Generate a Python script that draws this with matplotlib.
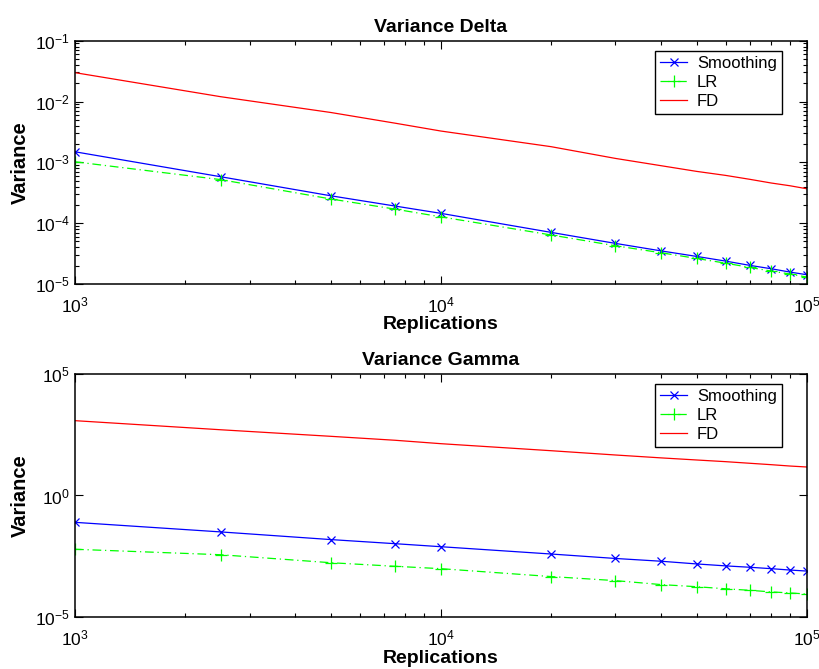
import numpy as np
import matplotlib
matplotlib.use('Agg')
import matplotlib.pyplot as plt
from matplotlib.ticker import LogLocator, NullLocator

plt.rcParams['font.family'] = ['Liberation Sans', 'DejaVu Sans']
plt.rcParams['mathtext.fontset'] = 'custom'
plt.rcParams['mathtext.rm'] = 'Liberation Sans'
plt.rcParams['mathtext.it'] = 'Liberation Sans:italic'
plt.rcParams['mathtext.bf'] = 'Liberation Sans:bold'

# replications
reps = [1000, 2500, 5000, 7500, 10000, 20000, 30000, 40000, 50000,
        60000, 70000, 80000, 90000, 100000]

# Variance Delta
delta_smooth = [1.49e-3, 5.8e-4, 2.82e-4, 1.91e-4, 1.45e-4, 7.06e-5, 4.65e-5,
                3.5e-5, 2.84e-5, 2.38e-5, 2.02e-5, 1.78e-5, 1.57e-5, 1.42e-5]
delta_lr = [1.02e-3, 5.2e-4, 2.5e-4, 1.7e-4, 1.27e-4, 6.4e-5, 4.25e-5,
            3.26e-5, 2.63e-5, 2.2e-5, 1.87e-5, 1.63e-5, 1.46e-5, 1.3e-5]
delta_fd = [2.98e-2, 1.2e-2, 6.6e-3, 4.4e-3, 3.27e-3, 1.81e-3, 1.16e-3,
            8.8e-4, 7.1e-4, 6.1e-4, 5.25e-4, 4.57e-4, 4.12e-4, 3.68e-4]

# Variance Gamma
gamma_smooth = [0.079, 0.032, 0.0155, 0.0105, 7.9e-3, 3.96e-3, 2.6e-3,
                2.0e-3, 1.55e-3, 1.29e-3, 1.13e-3, 9.9e-4, 8.7e-4, 7.9e-4]
gamma_lr = [6.2e-3, 3.7e-3, 1.74e-3, 1.24e-3, 9.9e-4, 4.7e-4, 3.2e-4,
            2.2e-4, 1.8e-4, 1.48e-4, 1.28e-4, 1.1e-4, 1.0e-4, 9e-5]
gamma_fd = [1180, 500, 269, 185, 134, 69, 46, 35, 28.7, 24.5, 21, 18.4, 16.2, 14.8]

fig = plt.figure(figsize=(8.19, 6.69), dpi=100)
ax1 = fig.add_axes([0.0916, 0.5755, 0.8934, 0.3637])
ax2 = fig.add_axes([0.0916, 0.0773, 0.8934, 0.3641])


def draw(ax, s, lr, fd, title, ylim, yticks, yminor):
    ax.loglog(reps, s, color='blue', marker='x', markersize=6, lw=0.9,
              markeredgewidth=0.9, label='Smoothing')
    ax.loglog(reps, lr, color=(0, 1, 0), marker='+', markersize=8, lw=0.9,
              markeredgewidth=0.9, linestyle=(0, (7, 3, 1, 3)), label='LR')
    ax.loglog(reps, fd, color='red', lw=0.9, label='FD')
    ax.set_xlim(1e3, 1e5)
    ax.set_ylim(*ylim)
    ax.set_yticks(yticks)
    if not yminor:
        ax.yaxis.set_minor_locator(NullLocator())
    else:
        ax.yaxis.set_minor_locator(LogLocator(base=10, subs=np.arange(2, 10)))
    ax.set_title(title, fontsize=14, fontweight='bold', pad=6)
    ax.set_xlabel('Replications', fontsize=14, fontweight='bold', labelpad=1)
    ax.set_ylabel('Variance', fontsize=14.5, fontweight='bold', labelpad=4)
    ax.tick_params(which='both', direction='in', top=True, right=True,
                   labelsize=12.5, width=0.8)
    ax.tick_params(which='major', length=6)
    ax.tick_params(which='minor', length=3)
    ax.tick_params(axis='x', pad=8)
    for sp in ax.spines.values():
        sp.set_linewidth(1.1)
    leg = ax.legend(loc='upper right', bbox_to_anchor=(0.966, 0.958),
                    borderaxespad=0, fontsize=12, fancybox=False,
                    edgecolor='black', framealpha=1, handlelength=1.6,
                    handletextpad=0.6, labelspacing=0.25, borderpad=0.3)
    leg.get_frame().set_linewidth(1.0)


draw(ax1, delta_smooth, delta_lr, delta_fd, 'Variance Delta',
     (1e-5, 1e-1), [1e-5, 1e-4, 1e-3, 1e-2, 1e-1], True)
draw(ax2, gamma_smooth, gamma_lr, gamma_fd, 'Variance Gamma',
     (1e-5, 1e5), [1e-5, 1e0, 1e5], False)

fig.savefig('out.png', dpi=100)
